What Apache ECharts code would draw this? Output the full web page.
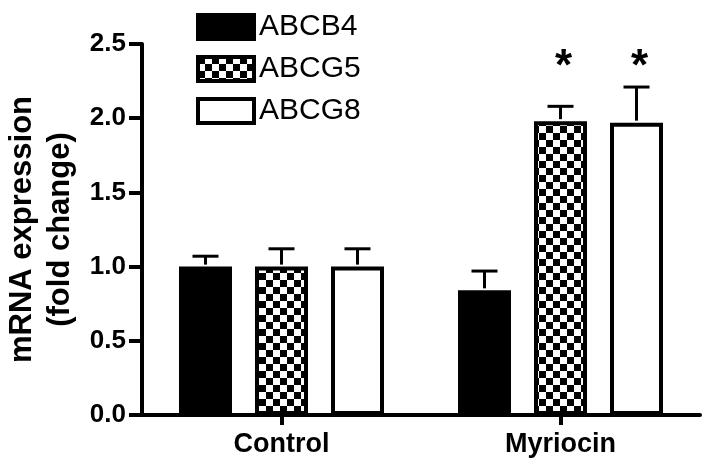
<!DOCTYPE html>
<html>
<head>
<meta charset="utf-8">
<script src="https://cdn.jsdelivr.net/npm/echarts@6/dist/echarts.min.js"></script>
<style>
  html, body { margin: 0; padding: 0; background: #fff; }
  #chart { width: 714px; height: 473px; }
</style>
</head>
<body>
<div id="chart"></div>
<script>
  // groups on the x axis
  var groups = ['Control', 'Myriocin'];
  var seriesNames = ['ABCB4', 'ABCG5', 'ABCG8'];
  // bar heights (fold change)
  var abcb4 = [1.00, 0.84];
  var abcg5 = [1.00, 1.98];
  var abcg8 = [1.00, 1.97];
  // upper error (SEM)
  var abcb4Err = [0.07, 0.13];
  var abcg5Err = [0.12, 0.10];
  var abcg8Err = [0.12, 0.24];
  // significance marks
  var abcb4Sig = ['', ''];
  var abcg5Sig = ['', '*'];
  var abcg8Sig = ['', '*'];
  var yTicks = [0, 0.5, 1.0, 1.5, 2.0, 2.5];

  var FONT = '"Liberation Sans", Arial, Helvetica, sans-serif';
  var BAR_W = 53;
  var BAR_GAP = 0.434;
  var SIG_Y = 2.34;

  //checker pattern for ABCG5
  function checker() {
    var c = document.createElement('canvas');
    c.width = 14; c.height = 14;
    var ctx = c.getContext('2d');
    ctx.fillStyle = '#fff';
    ctx.fillRect(0, 0, 14, 14);
    ctx.fillStyle = '#000';
    ctx.fillRect(0, 0, 7, 7);
    ctx.fillRect(7, 7, 7, 7);
    return c;
  }

  var values = [abcb4, abcg5, abcg8];
  var errs = [abcb4Err, abcg5Err, abcg8Err];
  var sigs = [abcb4Sig, abcg5Sig, abcg8Sig];
  var fills = ['#000', { image: checker(), repeat: 'repeat' }, '#fff'];

  var series = [];
  seriesNames.forEach(function (name, i) {
    series.push({
      name: name,
      type: 'bar',
      barWidth: BAR_W,
      barGap: (BAR_GAP * 100) + '%',
      data: values[i],
      itemStyle: {
        color: fills[i],
        borderColor: '#000',
        borderWidth: 4
      },
      z: 2
    });
  });

  // error bars + asterisks
  seriesNames.forEach(function (name, i) {
    var data = groups.map(function (g, k) {
      return [k, values[i][k], errs[i][k], sigs[i][k]];
    });
    series.push({
      type: 'custom',
      data: data,
      z: 3,
      silent: true,
      renderItem: function (params, api) {
        var off = (i - 1) * BAR_W * (1 + BAR_GAP);
        var base = api.coord([api.value(0), api.value(1)]);
        var top = api.coord([api.value(0), api.value(1) + api.value(2)]);
        var x = base[0] + off;
        var half = 13;
        var children = [
          { type: 'line', shape: { x1: x, y1: base[1] - 2, x2: x, y2: top[1] }, style: { stroke: '#000', lineWidth: 3 } },
          { type: 'line', shape: { x1: x - half, y1: top[1], x2: x + half, y2: top[1] }, style: { stroke: '#000', lineWidth: 3 } }
        ];
        var sig = data[params.dataIndex][3];
        if (sig) {
          var sp = api.coord([api.value(0), SIG_Y]);
          children.push({
            type: 'text',
            style: {
              x: x + 3, y: sp[1],
              text: sig,
              fill: '#000',
              font: 'bold 44px ' + FONT,
              align: 'center',
              verticalAlign: 'middle'
            }
          });
        }
        return { type: 'group', children: children };
      }
    });
  });

  var chart = echarts.init(document.getElementById('chart'));
  var option = {
    animation: false,
    backgroundColor: '#fff',
    legend: {
      data: seriesNames,
      orient: 'vertical',
      left: 191,
      top: 7,
      itemWidth: 56,
      itemHeight: 24,
      itemGap: 12,
      icon: 'rect',
      itemStyle: { borderColor: '#000', borderWidth: 4 },
      textStyle: { fontSize: 30, fontFamily: FONT, color: '#000' },
      selectedMode: false
    },
    grid: { left: 142, right: 14, top: 44, bottom: 58, outerBoundsMode: 'none' },
    xAxis: {
      type: 'category',
      data: groups,
      axisLine: { lineStyle: { color: '#000', width: 4 } },
      axisTick: { show: true, alignWithLabel: true, length: 10, lineStyle: { color: '#000', width: 4 } },
      axisLabel: { fontSize: 27, fontWeight: 'bold', fontFamily: FONT, color: '#000', margin: 16 },
      splitLine: { show: false }
    },
    yAxis: {
      type: 'value',
      min: yTicks[0],
      max: yTicks[yTicks.length - 1],
      interval: 0.5,
      name: 'mRNA expression\n(fold change)',
      nameLocation: 'middle',
      nameRotate: 90,
      nameGap: 60,
      nameTextStyle: { fontSize: 31, fontWeight: 'bold', fontFamily: FONT, color: '#000', lineHeight: 38 },
      axisLine: { show: true, onZero: false, lineStyle: { color: '#000', width: 4 } },
      axisTick: { show: true, length: 13, lineStyle: { color: '#000', width: 4 } },
      axisLabel: {
        fontSize: 26, fontWeight: 'bold', fontFamily: FONT, color: '#000', margin: 16,
        formatter: function (v) { return v.toFixed(1); }
      },
      splitLine: { show: false }
    },
    series: series
  };
  chart.setOption(option);
</script>
</body>
</html>
